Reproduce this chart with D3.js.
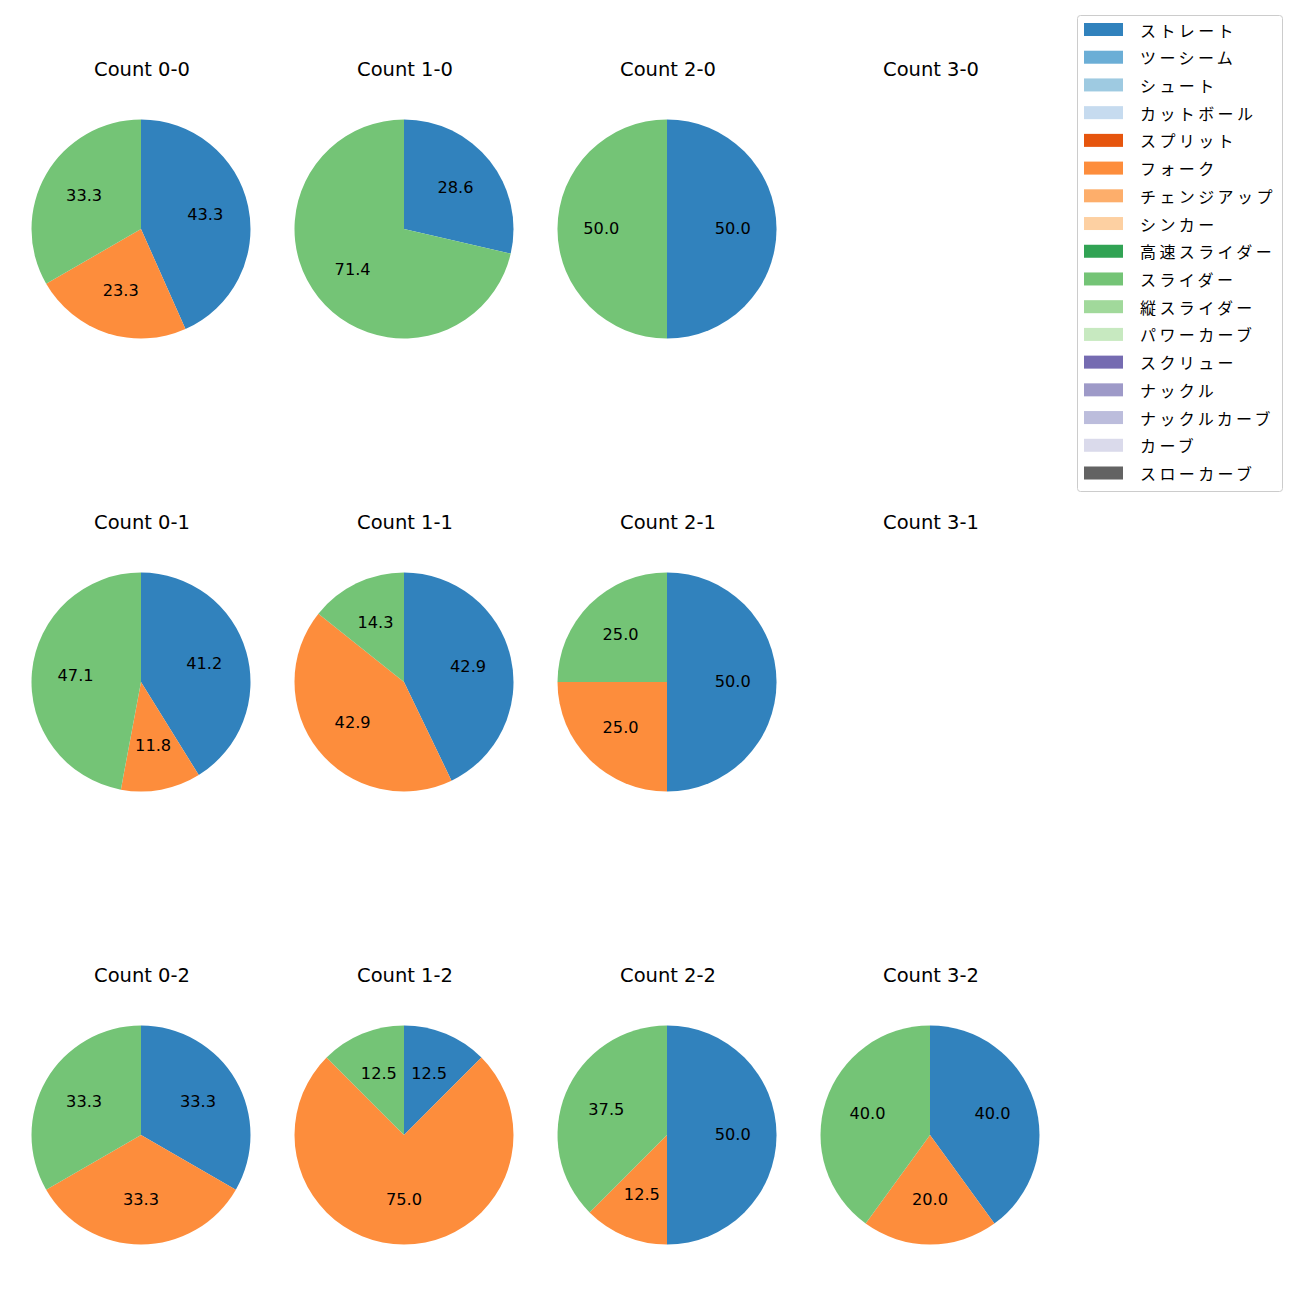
<!DOCTYPE html>
<html><head><meta charset="utf-8">
<script src="https://cdn.jsdelivr.net/npm/d3@7"></script>
<style>body{margin:0;background:#fff}</style>
</head><body>
<svg id="c" width="1300" height="1300"></svg>
<script>
const pitchTypes = ["ストレート","ツーシーム","シュート","カットボール","スプリット","フォーク","チェンジアップ","シンカー","高速スライダー","スライダー","縦スライダー","パワーカーブ","スクリュー","ナックル","ナックルカーブ","カーブ","スローカーブ"];
const pitchColors = ["#3182bd","#6baed6","#9ecae1","#c6dbef","#e6550d","#fd8d3c","#fdae6b","#fdd0a2","#31a354","#74c476","#a1d99b","#c7e9c0","#756bb1","#9e9ac8","#bcbddc","#dadaeb","#636363"];
const panelTitles = ["Count 0-0","Count 1-0","Count 2-0","Count 3-0","Count 0-1","Count 1-1","Count 2-1","Count 3-1","Count 0-2","Count 1-2","Count 2-2","Count 3-2"];
// shares of ストレート, フォーク, スライダー (percent)
const pieTypes = ["ストレート","フォーク","スライダー"];
const straightShare = [43.3, 28.6, 50.0, null, 41.2, 42.9, 50.0, null, 33.3, 12.5, 50.0, 40.0];
const forkShare     = [23.3, 0,    0,    null, 11.8, 42.9, 25.0, null, 33.3, 75.0, 12.5, 20.0];
const sliderShare   = [33.3, 71.4, 50.0, null, 47.1, 14.3, 25.0, null, 33.3, 12.5, 37.5, 40.0];

const svg = d3.select("#c");
const latin = "'DejaVu Sans',sans-serif";
const cjk = "'Noto Sans CJK JP',sans-serif";
const colX = d3.scalePoint().domain([0,1,2,3]).range([141,930]);
const rowY = d3.scalePoint().domain([0,1,2]).range([229,1135]);
const color = d3.scaleOrdinal().domain(pitchTypes).range(pitchColors);
const R = 109.5;
const pie = d3.pie().sort(null).value(d=>d.v).startAngle(0).endAngle(2*Math.PI);
const arc = d3.arc().innerRadius(0).outerRadius(R);
const labelArc = d3.arc().innerRadius(R*0.6).outerRadius(R*0.6);

panelTitles.forEach((t,i)=>{
  const c = i%4, r = Math.floor(i/4);
  const cx = colX(c), cy = rowY(r);
  svg.append("text").attr("x",cx+1).attr("y",cy-153).attr("text-anchor","middle")
    .attr("font-family",latin).attr("font-size","19.5px").attr("fill","#000").text(t);
  if (straightShare[i]===null) return;
  const data = [straightShare[i],forkShare[i],sliderShare[i]].map((v,k)=>({k:pieTypes[k],v})).filter(d=>d.v>0);
  const g = svg.append("g").attr("transform",`translate(${cx},${cy})`);
  const arcs = pie(data);
  g.selectAll("path").data(arcs).join("path").attr("d",arc).attr("fill",d=>color(d.data.k));
  g.selectAll("text").data(arcs).join("text")
    .attr("transform",d=>`translate(${labelArc.centroid(d)})`)
    .attr("dy","-0.05em")
    .attr("text-anchor","middle").attr("dominant-baseline","central")
    .attr("font-family",latin).attr("font-size","16.2px").attr("fill","#000")
    .text(d=>d.data.v.toFixed(1));
});

// legend
const lg = svg.append("g");
lg.append("rect").attr("x",1077.5).attr("y",15.5).attr("width",205).attr("height",476).attr("rx",3)
  .attr("fill","#fff").attr("stroke","#ccc").attr("stroke-width",1);
const ly = d3.scalePoint().domain(pitchTypes).range([29.5,473]);
pitchTypes.forEach(p=>{
  lg.append("rect").attr("x",1084).attr("y",ly(p)-6.5).attr("width",39).attr("height",13).attr("fill",color(p));
  lg.append("text").attr("x",1140).attr("y",ly(p)).attr("dominant-baseline","central")
    .attr("font-family",cjk).attr("font-size","16px").attr("letter-spacing","3.4px").attr("fill","#000").text(p);
});
</script>
</body></html>
